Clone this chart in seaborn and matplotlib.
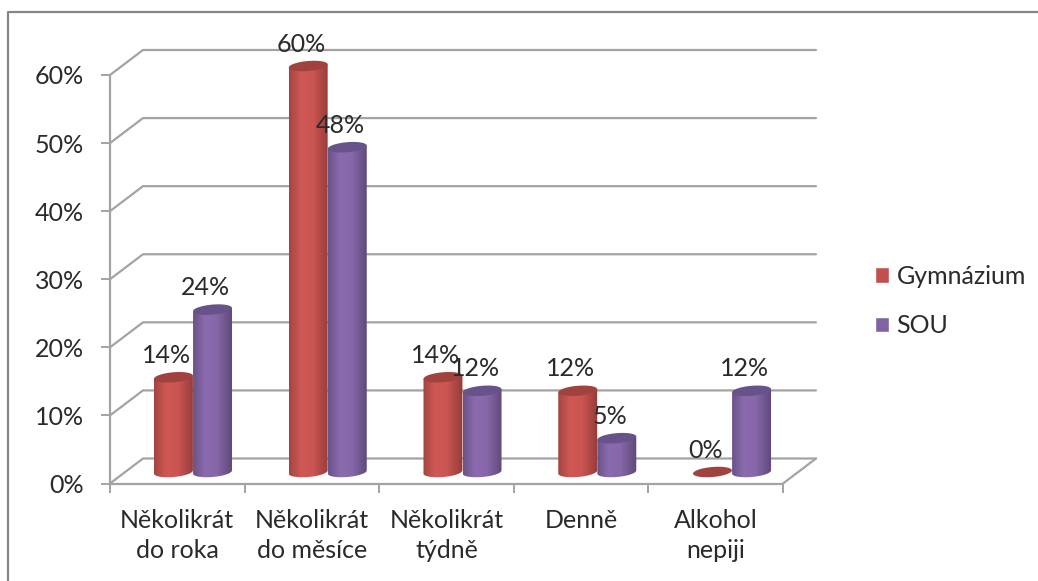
import numpy as np
import pandas as pd
import seaborn as sns
import matplotlib.pyplot as plt
from matplotlib.colors import LinearSegmentedColormap
from matplotlib.lines import Line2D
from matplotlib.patches import Polygon
from matplotlib.path import Path
from matplotlib.transforms import IdentityTransform

# data
categories = ["Několikrát\ndo roka", "Několikrát\ndo měsíce", "Několikrát\ntýdně", "Denně", "Alkohol\nnepiji"]
gymnazium = [14, 60, 14, 12, 0]
sou = [24, 48, 12, 5, 12]
series_names = ["Gymnázium", "SOU"]
y_ticks = [0, 10, 20, 30, 40, 50, 60]

W, H = 1038, 581
GRID = "#a3a3a3"
TEXT = "#2a2a2a"
FS = 18
colors = ["#c0504d", "#8064a2"]
tops = ["#a04340", "#67528a"]
shades = [["#a5453f", "#cf5855", "#cb5552", "#953c39"],
          ["#6a5388", "#8a6cae", "#8667aa", "#5e4878"]]

sns.set_theme(style="white")
plt.rcParams["font.family"] = ["Lato", "DejaVu Sans"]

df = pd.DataFrame({
    "kategorie": categories * 2,
    "skupina": [series_names[0]] * 5 + [series_names[1]] * 5,
    "hodnota": gymnazium + sou,
})

fig = plt.figure(figsize=(W / 100, H / 100), dpi=100)


def px_axes(x0, y0, x1, y1):
    return fig.add_axes([x0 / W, 1 - y1 / H, (x1 - x0) / W, (y1 - y0) / H])


# front plane with the axes, walls behind it
frame = px_axes(110, 75, 783, 483.5)
frame.set_xlim(-0.5, 4.5)
frame.set_ylim(0, 60)
frame.patch.set_alpha(0)
dx = 33 / (673 / 5)
dy = 25 / (408.5 / 60)
for v in y_ticks:
    frame.plot([-0.5, -0.5 + dx, 4.5 + dx], [v, v + dy, v + dy], color=GRID, lw=1.6, clip_on=False, zorder=1)
frame.plot([4.5, 4.5 + dx], [0, dy], color=GRID, lw=1.6, clip_on=False, zorder=1)
for name in ["top", "right"]:
    frame.spines[name].set_visible(False)
for name in ["left", "bottom"]:
    frame.spines[name].set_color(GRID)
    frame.spines[name].set_linewidth(1.6)
frame.set_yticks(y_ticks)
frame.set_yticklabels([f"{v}%" for v in y_ticks], fontsize=FS, color=TEXT)
frame.set_xticks(range(5))
frame.set_xticklabels(categories, fontsize=FS, color=TEXT, linespacing=1.4)
frame.set_xticks(np.arange(-0.5, 5), minor=True)
frame.tick_params(axis="y", left=True, length=6.5, width=1.4, color=GRID, pad=12)
frame.tick_params(axis="x", which="major", bottom=False, length=0, pad=18)
frame.tick_params(axis="x", which="minor", bottom=True, length=6.5, width=1.4, color=GRID)

# plane the cylinders stand on
ax = px_axes(125.6, 66, 799.4, 472)
sns.barplot(data=df, x="kategorie", y="hodnota", hue="skupina", hue_order=series_names,
            order=categories, palette=colors, width=0.58, gap=0, saturation=1, ax=ax)
ax.set_xlim(-0.5, 4.5)
ax.set_ylim(0, 60)
handles, labels = ax.get_legend_handles_labels()
ax.get_legend().remove()
ax.axis("off")


def ellipse_pts(cx, cy, a, b, t):
    tilt = np.radians(5)
    x = a * np.cos(t)
    y = b * np.sin(t)
    return np.column_stack([cx + x * np.cos(tilt) - y * np.sin(tilt),
                            cy + x * np.sin(tilt) + y * np.cos(tilt)])


for i, container in enumerate(ax.containers):
    cmap = LinearSegmentedColormap.from_list("cyl", list(zip([0, 0.3, 0.6, 1], shades[i])))
    for bar, value in zip(container.patches, df["hodnota"][df["skupina"] == series_names[i]]):
        x0, x1 = bar.get_x(), bar.get_x() + bar.get_width()
        (px0, py0), (px1, py1) = ax.transData.transform([(x0, 0), (x1, value)])
        cx = (px0 + px1) / 2
        a = (px1 - px0) / 2
        if value > 0:
            lower = ellipse_pts(cx, py0, a, 5, np.linspace(np.pi, 2 * np.pi, 40))
            upper = ellipse_pts(cx, py1, a, 5, np.array([0, np.pi]))
            body = Path(np.vstack([lower, upper, lower[:1]]), closed=True)
            im = ax.imshow(np.linspace(0, 1, 80)[None, :], cmap=cmap, aspect="auto",
                           extent=[x0, x1, -2, value + 2], zorder=3 + i)
            im.set_clip_box(fig.bbox)
            im.set_clip_path(body, IdentityTransform())
        ax.add_patch(Polygon(ellipse_pts(cx, py1, a, 5, np.linspace(0, 2 * np.pi, 60)),
                             closed=True, facecolor=tops[i], edgecolor="none", clip_on=False,
                             transform=IdentityTransform(), zorder=3 + i))
        bar.set_visible(False)
        ax.annotate(f"{value}%", ((x0 + x1) / 2, value), xytext=(-7, 22), textcoords="offset pixels",
                    ha="center", va="center", fontsize=FS, color=TEXT, annotation_clip=False, zorder=8)
ax.set_xlim(-0.5, 4.5)
ax.set_ylim(0, 60)

fig.legend(handles, labels, loc="center left", bbox_to_anchor=(875 / W, 1 - 301 / H), frameon=False,
           fontsize=FS, labelcolor=TEXT, handlelength=0.56, handleheight=0.56, handletextpad=0.3,
           labelspacing=1.05, borderpad=0, borderaxespad=0)

# outer chart border
fig.add_artist(Line2D([8 / W, 8 / W, 1], [0, 1 - 12 / H, 1 - 12 / H], color="#868686", lw=1.6))

fig.savefig("out.png", dpi=100)
